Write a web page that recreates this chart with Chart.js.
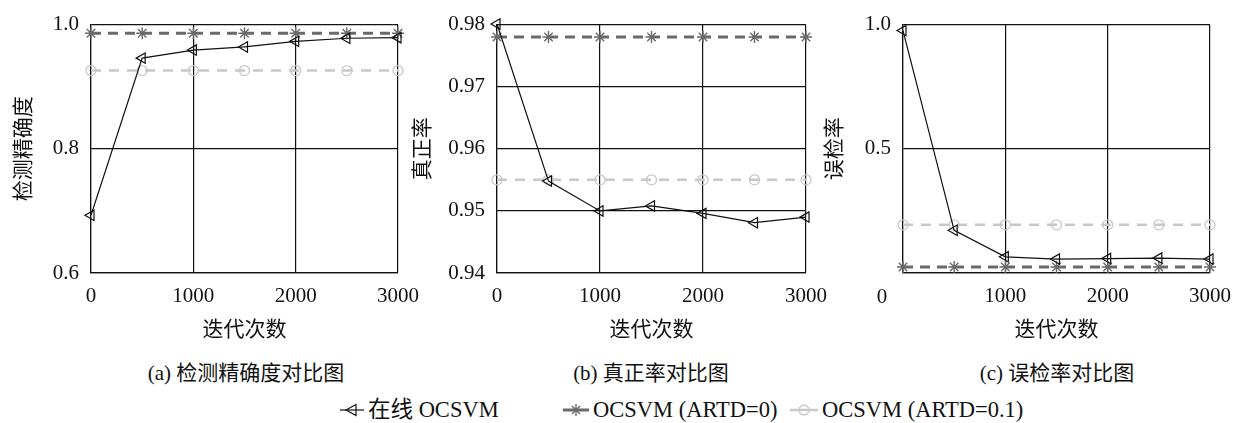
<!DOCTYPE html>
<html lang="zh">
<head>
<meta charset="UTF-8">
<title>对比图</title>
<script src="https://cdn.jsdelivr.net/npm/chart.js"></script>
<style>
  body { margin: 0; background: #fff; width: 1242px; height: 423px; position: relative; overflow: hidden;
         font-family: 'Liberation Serif', 'Noto Sans CJK SC', serif; color: #111; }
  .panel { position: absolute; top: 0; height: 350px; }
  .cap { position: absolute; top: 356px; font-size: 21px; white-space: nowrap; transform: translateX(-50%); }
  .leg { position: absolute; top: 398px; height: 24px; line-height: 24px; font-size: 22.5px;
         display: flex; align-items: center; white-space: nowrap; }
  .leg span { line-height: 24px; }
  .leg svg { margin-right: 4px; }
</style>
</head>
<body>
<div class="panel" style="left:0;width:430px"><canvas id="chartA"></canvas></div>
<div class="panel" style="left:410px;width:430px"><canvas id="chartB"></canvas></div>
<div class="panel" style="left:820px;width:422px"><canvas id="chartC"></canvas></div>

<div class="cap" style="left:246px">(a) 检测精确度对比图</div>
<div class="cap" style="left:651px">(b) 真正率对比图</div>
<div class="cap" style="left:1057px">(c) 误检率对比图</div>

<div class="leg" style="left:340px">
  <svg width="24" height="16"><line x1="0" y1="8" x2="24" y2="8" stroke="#111" stroke-width="1.2"/><polygon points="6,8 16,2.5 16,13.5" fill="none" stroke="#111" stroke-width="1.2"/></svg>
  <span id="leg0"></span>
</div>
<div class="leg" style="left:563px">
  <svg width="26" height="16"><line x1="0" y1="8" x2="26" y2="8" stroke="#6a6a6a" stroke-width="3"/><g stroke="#6a6a6a" stroke-width="1.4"><line x1="13" y1="2" x2="13" y2="14"/><line x1="7" y1="8" x2="19" y2="8"/><line x1="9" y1="4" x2="17" y2="12"/><line x1="17" y1="4" x2="9" y2="12"/></g></svg>
  <span id="leg1"></span>
</div>
<div class="leg" style="left:790px">
  <svg width="28" height="16"><line x1="0" y1="8" x2="28" y2="8" stroke="#c8c8c8" stroke-width="2.5"/><circle cx="14" cy="8" r="5" fill="none" stroke="#c8c8c8" stroke-width="1.3"/></svg>
  <span id="leg2"></span>
</div>

<script>
// iterations (x axis)
const iterations = [0, 500, 1000, 1500, 2000, 2500, 3000];
const seriesNames = ['在线 OCSVM', 'OCSVM (ARTD=0)', 'OCSVM (ARTD=0.1)'];

// (a) 检测精确度
const accOnline = [0.693, 0.946, 0.959, 0.964, 0.973, 0.978, 0.979];
const accArtd0  = [0.986, 0.986, 0.986, 0.986, 0.986, 0.986, 0.986];
const accArtd01 = [0.926, 0.926, 0.926, 0.926, 0.926, 0.926, 0.926];

// (b) 真正率
const tprOnline = [0.9801, 0.9548, 0.9500, 0.9508, 0.9496, 0.9481, 0.9490];
const tprArtd0  = [0.978, 0.978, 0.978, 0.978, 0.978, 0.978, 0.978];
const tprArtd01 = [0.955, 0.955, 0.955, 0.955, 0.955, 0.955, 0.955];

// (c) 误检率
const fprOnline = [0.976, 0.172, 0.065, 0.056, 0.058, 0.060, 0.056];
const fprArtd0  = [0.024, 0.024, 0.024, 0.024, 0.024, 0.024, 0.024];
const fprArtd01 = [0.194, 0.194, 0.194, 0.194, 0.194, 0.194, 0.194];

const FONT = "'Liberation Serif', 'Noto Sans CJK SC', serif";
const INK = '#111';

seriesNames.forEach((n, i) => { document.getElementById('leg' + i).textContent = n; });

function pts(values) {
    return values.map((v, i) => ({ x: iterations[i], y: v }));
}

// draws the stray "0" of panel c left of the axis, like the original
const zeroLabel = {
    id: 'zeroLabel',
    afterDraw(chart, args, opts) {
        if (!opts.show) return;
        const ctx = chart.ctx;
        const xs = chart.scales.x;
        ctx.save();
        ctx.font = '21px ' + FONT;
        ctx.fillStyle = INK;
        ctx.textAlign = 'center';
        ctx.textBaseline = 'middle';
        ctx.fillText('0', xs.left - 21, xs.top + 24);
        ctx.restore();
    }
};

function makePanel(id, yTitle, data, yMin, yMax, yStep, decimals, lay) {
    const datasets = [
        {
            label: seriesNames[0], data: pts(data[0]),
            borderColor: INK, borderWidth: 1.2,
            pointStyle: 'triangle', pointRotation: -90, pointRadius: 6,
            pointBorderColor: INK, pointBorderWidth: 1.2, pointBackgroundColor: 'rgba(0,0,0,0)',
            clip: false
        },
        {
            label: seriesNames[1], data: pts(data[1]),
            borderColor: '#6a6a6a', borderWidth: 3, borderDash: [10, 7],
            pointStyle: 'star', pointRadius: 6,
            pointBorderColor: '#6a6a6a', pointBorderWidth: 1.4,
            clip: false
        },
        {
            label: seriesNames[2], data: pts(data[2]),
            borderColor: '#c8c8c8', borderWidth: 2.5, borderDash: [10, 8],
            pointStyle: 'circle', pointRadius: 5,
            pointBorderColor: '#c8c8c8', pointBorderWidth: 1.3, pointBackgroundColor: 'rgba(0,0,0,0)',
            clip: false
        }
    ];

    return new Chart(document.getElementById(id), {
        type: 'line',
        data: { datasets: datasets },
        plugins: [zeroLabel],
        options: {
            responsive: true,
            maintainAspectRatio: false,
            animation: false,
            layout: { padding: { top: 15, right: lay.padRight, left: 0, bottom: 0 } },
            plugins: { legend: { display: false }, tooltip: { enabled: false }, zeroLabel: { show: lay.zero } },
            scales: {
                x: {
                    type: 'linear', min: 0, max: 3000,
                    ticks: {
                        stepSize: 1000, padding: 11, color: INK, font: { family: FONT, size: 21 },
                        callback: v => (lay.zero && v === 0) ? '' : v
                    },
                    grid: { color: INK, lineWidth: 1.2, drawTicks: false },
                    border: { color: INK, width: 1.2 },
                    title: { display: true, text: '迭代次数', color: INK, font: { family: FONT, size: 21 }, padding: { top: 0, bottom: 7 } },
                    afterFit: s => { s.height = 77; }
                },
                y: {
                    min: yMin, max: yMax,
                    ticks: {
                        stepSize: yStep, padding: 12, color: INK, font: { family: FONT, size: 21 },
                        callback: v => (lay.zero && v === 0) ? '' : Number(v).toFixed(decimals)
                    },
                    grid: { color: INK, lineWidth: 1.2, drawTicks: false },
                    border: { color: INK, width: 1.2 },
                    title: { display: true, text: yTitle, color: INK, font: { family: FONT, size: 21 }, padding: { top: lay.titlePad, bottom: 0 } },
                    afterFit: s => { s.width = lay.yWidth; }
                }
            }
        }
    });
}

makePanel('chartA', '检测精确度', [accOnline, accArtd0, accArtd01], 0.6, 1.0, 0.2, 1,
    { yWidth: 91, padRight: 30, titlePad: 12, zero: false });
makePanel('chartB', '真正率', [tprOnline, tprArtd0, tprArtd01], 0.94, 0.98, 0.01, 2,
    { yWidth: 87, padRight: 34, titlePad: 1, zero: false });
makePanel('chartC', '误检率', [fprOnline, fprArtd0, fprArtd01], 0, 1.0, 0.5, 1,
    { yWidth: 83, padRight: 30, titlePad: 3, zero: true });
</script>
</body>
</html>
